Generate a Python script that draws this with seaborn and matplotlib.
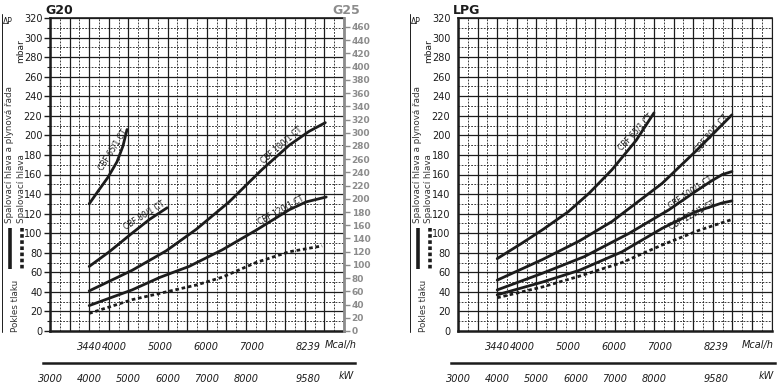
import numpy as np
import pandas as pd
import matplotlib.pyplot as plt
from matplotlib.lines import Line2D
import seaborn as sns

sns.set_theme(style="white")
plt.rcParams['font.family'] = ['DejaVu Sans']

W, H = 778, 384
INK = "#1c1c1c"
GREY = "#8c8c8c"
KW2MCAL = 0.86

# ---------------- data (x = Mcal/h, y = mbar) ----------------
# G20 panel
g20_65_x = [3440, 3650, 3850, 4050, 4180, 4270]
g20_65_y = [130, 144, 157, 173, 189, 206]
g20_80_x = [3440, 3880, 4380, 4760, 5150]
g20_80_y = [66, 81, 100, 114, 126]
g20_100_x = [3440, 4380, 5130, 5790, 6510, 7230, 7830, 8260, 8620]
g20_100_y = [41, 62, 82, 104, 132, 165, 190, 204, 213]
g20_120_x = [3440, 4380, 5000, 5630, 6360, 7100, 7830, 8200, 8640]
g20_120_y = [26, 42, 55, 66, 83, 103, 124, 132, 137]
g20_head_x = [3440, 4380, 5790, 6360, 7100, 7830, 8550]
g20_head_y = [18, 32, 47, 55, 70, 81, 87]

# LPG panel
lpg_65_x = [3440, 3990, 4450, 5000, 5460, 5960, 6490, 6880]
lpg_65_y = [74, 90, 104, 122, 141, 165, 195, 223]
lpg_80_x = [3440, 4430, 5240, 5960, 7060, 7800, 8590]
lpg_80_y = [52, 73, 92, 112, 151, 184, 221]
lpg_100_x = [3440, 4430, 5350, 6340, 7210, 7800, 8160, 8380, 8590]
lpg_100_y = [42, 59, 76, 100, 124, 143, 154, 160, 163]
lpg_120_x = [3440, 4430, 5240, 6180, 7060, 7800, 8380, 8590]
lpg_120_y = [37, 50, 62, 81, 105, 122, 131, 133]
lpg_head_x = [3440, 4430, 5240, 6180, 7060, 7870, 8590]
lpg_head_y = [34, 45, 56, 70, 88, 103, 114]

mcal_ticks = [3440, 4000, 5000, 6000, 7000, 8239]
kw_ticks = [3000, 4000, 5000, 6000, 7000, 8000, 9580]
mbar_ticks = list(range(0, 321, 20))
g25_ticks = list(range(0, 461, 20))

g20_labels = [("CBF 65/1 CT", 3966, 185, 58), ("CBF 80/1 CT", 4646, 118, 32),
              ("CBF 100/1 CT", 7650, 190, 41), ("CBF 120/1 CT", 7650, 124, 29)]
lpg_labels = [("CBF 65/1 CT", 6488, 204, 47), ("CBF 80/1 CT", 8133, 202, 50),
              ("CBF 100/1 CT", 7672, 142, 34), ("CBF 120/1 CT", 7716, 119, 29)]


def frame(pairs):
    rows = []
    for name, xs, ys in pairs:
        rows.append(pd.DataFrame({"curve": name, "mcal": xs, "mbar": ys}))
    return pd.concat(rows, ignore_index=True)


g20 = frame([("65", g20_65_x, g20_65_y), ("80", g20_80_x, g20_80_y),
             ("100", g20_100_x, g20_100_y), ("120", g20_120_x, g20_120_y),
             ("head", g20_head_x, g20_head_y)])
lpg = frame([("65", lpg_65_x, lpg_65_y), ("80", lpg_80_x, lpg_80_y),
             ("100", lpg_100_x, lpg_100_y), ("120", lpg_120_x, lpg_120_y),
             ("head", lpg_head_x, lpg_head_y)])

fig = plt.figure(figsize=(W / 100, H / 100), dpi=100)
fig.patch.set_facecolor("white")


def fx(px):
    return px / W


def fy(py):
    return 1 - py / H


def panel(x0, n_units, df, labels, title, mcal_px, kw_px, kw_end):
    # one grid unit = 500 kW = 430 Mcal/h = 19.6 px
    width = n_units * 19.6
    ax = fig.add_axes([fx(x0), fy(331), width / W, 313 / H])
    xmin = 3000 * KW2MCAL
    xmax = xmin + n_units * 430
    grid_x = np.arange(xmin, xmax + 1, 215)
    for i, v in enumerate(grid_x):
        if i % 2 == 0:
            ax.axvline(v, color=INK, lw=0.9, zorder=1)
        else:
            ax.axvline(v, color=INK, lw=0.6, ls=(0, (2.2, 1.6)), zorder=1)
    for v in range(10, 321, 10):
        if v % 20 == 0:
            ax.axhline(v, color=INK, lw=0.9, zorder=1)
        else:
            ax.axhline(v, color=INK, lw=0.6, ls=(0, (2.2, 1.6)), zorder=1)

    for name, d in df.groupby("curve", sort=False):
        ls = (0, (1.3, 1.0)) if name == "head" else "-"
        sns.lineplot(data=d, x="mcal", y="mbar", ax=ax, color=INK, lw=2.0,
                     linestyle=ls, sort=False, estimator=None, legend=False,
                     zorder=3)

    for txt, x, y, rot in labels:
        ax.text(x, y, txt, rotation=rot, rotation_mode="anchor", ha="center",
                va="center", fontsize=5.5, color=INK, zorder=4)

    ax.set_xlim(xmin, xmax)
    ax.set_ylim(0, 320)
    ax.set_xlabel("")
    ax.set_ylabel("")
    ax.set_xticks(mcal_ticks)
    ax.set_xticklabels([str(t) for t in mcal_ticks], fontsize=7,
                       style="italic", color=INK)
    ax.set_xticks(grid_x, minor=True)
    ax.set_yticks(mbar_ticks)
    ax.set_yticklabels([str(t) for t in mbar_ticks], fontsize=7, color=INK)
    ax.set_yticks(range(10, 321, 20), minor=True)
    ax.tick_params(axis="x", which="major", direction="out", length=6,
                   width=1.6, pad=2, color=INK)
    ax.tick_params(axis="x", which="minor", direction="out", length=3,
                   width=0.8, color=INK)
    ax.tick_params(axis="y", which="major", direction="out", length=4,
                   width=1.0, pad=1.5, color=INK)
    ax.tick_params(axis="y", which="minor", direction="out", length=2,
                   width=0.8, color=INK)
    for s in ["left", "bottom"]:
        ax.spines[s].set_linewidth(1.8)
        ax.spines[s].set_color(INK)
    ax.spines["top"].set_linewidth(1.2)
    ax.spines["top"].set_color(INK)
    ax.spines["right"].set_linewidth(0.8)
    ax.spines["right"].set_color(INK)
    ax.set_facecolor("white")

    # kW scale underneath
    lo_px, hi_px = x0 - 7, kw_end
    kax = fig.add_axes([fx(lo_px), fy(363), (hi_px - lo_px) / W, 0.0001])
    kax.set_xlim(3000 - 7 / 19.6 * 500, 3000 + (hi_px - x0) / 19.6 * 500)
    kax.set_yticks([])
    for s in ["top", "left", "right"]:
        kax.spines[s].set_visible(False)
    kax.spines["bottom"].set_linewidth(1.8)
    kax.spines["bottom"].set_color(INK)
    kax.set_xticks(kw_ticks)
    kax.set_xticklabels([str(t) for t in kw_ticks], fontsize=7,
                        style="italic", color=INK)
    kax.set_xticks(np.arange(3000, 3000 + (hi_px - x0 - 1) / 19.6 * 500, 250),
                   minor=True)
    kax.tick_params(axis="x", which="major", direction="out", length=5,
                    width=1.3, pad=3, color=INK)
    kax.tick_params(axis="x", which="minor", direction="out", length=4,
                    width=0.8, color=INK)
    kax.patch.set_alpha(0)

    # unit labels
    fig.text(fx(mcal_px), fy(345), "Mcal/h", fontsize=7,
             style="italic", color=INK, ha="center", va="center")
    fig.text(fx(kw_px), fy(376), "kW", fontsize=7,
             style="italic", color=INK, ha="center", va="center")

    # side legend / annotations
    o = x0 - 50
    fig.add_artist(Line2D([fx(o + 1.5)] * 2, [fy(14), fy(332)], color=INK,
                          lw=0.7))
    fig.text(fx(o + 8), fy(22), "ΔP", fontsize=5.5, color=INK, ha="center",
             va="center")
    fig.text(fx(o + 21), fy(51), "mbar", fontsize=6.5, color=INK,
             ha="center", va="center", rotation=90)
    fig.text(fx(o + 10), fy(223), "Spalovací hlava a plynová řada",
             fontsize=6.3, color="#333333", ha="center", va="bottom",
             rotation=90)
    fig.text(fx(o + 21), fy(223), "Spalovací hlava", fontsize=6.3,
             color="#333333", ha="center", va="bottom", rotation=90)
    fig.add_artist(Line2D([fx(o + 10)] * 2, [fy(228), fy(269)], color=INK,
                          lw=2.6, solid_capstyle="butt"))
    fig.add_artist(Line2D([fx(o + 22)] * 2, [fy(228), fy(269)], color=INK,
                          lw=2.6, ls=(0, (1.0, 0.7)), dash_capstyle="butt"))
    fig.text(fx(o + 15), fy(332), "Pokles tlaku", fontsize=6.3,
             color="#333333", ha="center", va="bottom", rotation=90)

    fig.text(fx(x0 - 5), fy(10), title, fontsize=9, fontweight="bold",
             color=INK, ha="left", va="center")
    return ax


ax_l = panel(50, 15, g20, g20_labels, "G20", 341, 346, 355)
ax_r = panel(458, 16, lpg, lpg_labels, "LPG", 758, 766, 775)

# G25 scale on the right of the G20 panel
ax_g25 = ax_l.twinx()
ax_g25.set_ylim(0, 320 * 1.48)
ax_g25.set_yticks(g25_ticks)
ax_g25.set_yticklabels([str(t) for t in g25_ticks], fontsize=6.5,
                       color=GREY, fontweight="bold")
ax_g25.tick_params(axis="y", direction="out", length=4, width=1.0,
                   pad=1.5, color=GREY)
ax_g25.grid(False)
for s in ["top", "left", "bottom"]:
    ax_g25.spines[s].set_visible(False)
ax_g25.spines["right"].set_color(GREY)
ax_g25.spines["right"].set_linewidth(2.0)
ax_l.spines["right"].set_visible(False)
fig.text(fx(332), fy(10), "G25", fontsize=9, fontweight="bold", color=GREY,
         ha="left", va="center")

fig.savefig("out.png", dpi=100, facecolor="white")
